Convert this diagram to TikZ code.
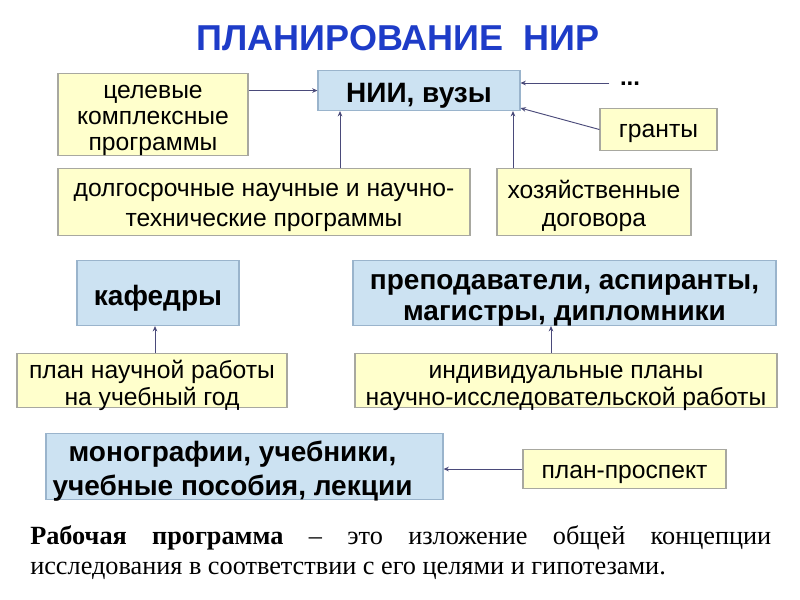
\documentclass[tikz,border=0pt]{standalone}
\usepackage{fontspec}
\setmainfont{Liberation Sans}
\newfontfamily\serifru{Liberation Serif}
\usetikzlibrary{arrows.meta,calc}
\definecolor{yfill}{HTML}{FFFFCC}
\definecolor{bfill}{HTML}{CCE2F2}
\definecolor{ydraw}{HTML}{A8A8A0}
\definecolor{bdraw}{HTML}{9AB4CC}
\definecolor{arrc}{HTML}{4A4A7A}
\definecolor{titc}{HTML}{1E3CC8}
% centred lines with a fixed baseline distance; box baseline = first line
\newcommand\mylines[2]{\vtop{\baselineskip=#1\relax\lineskiplimit=-100pt\relax
  \halign{\hfil##\hfil\cr#2\crcr}}}
\tikzset{
  boxbase/.style={line width=0.8pt, inner sep=0pt, anchor=north},
  ybox/.style={boxbase, draw=ydraw, fill=yfill, font=\fontsize{18.5}{22}\selectfont},
  bbox/.style={boxbase, draw=bdraw, fill=bfill, font=\fontsize{21}{24}\selectfont\bfseries},
  arr/.style={draw=arrc, line width=0.7pt, -{Stealth[length=4pt,width=3.5pt]}},
}
\begin{document}
\begin{tikzpicture}[x=0.75pt,y=-0.75pt]
\useasboundingbox[fill=white] (0,0) rectangle (800,600);
\node[text=titc, font=\fontsize{27}{30}\selectfont\bfseries] (title) at (398,38) {ПЛАНИРОВАНИЕ\ \ НИР};

\node[ybox, minimum width=142.5pt, text height=18.75pt, text depth=42.75pt] (cel) at (153,73)
  {\mylines{19.5pt}{целевые\cr комплексные\cr программы}};
\node[bbox, minimum width=151.5pt, text height=24pt, text depth=6pt] (nii) at (419,70) {НИИ, вузы};
\node[font=\fontsize{18}{20}\selectfont\bfseries] (dots) at (630,84) {...};
\node[ybox, minimum width=87.75pt, text height=22pt, text depth=9.5pt] (gr) at (658.5,108) {гранты};
\node[ybox, minimum width=309pt, text height=21pt, text depth=29.25pt] (dol) at (264,168)
  {\mylines{22.5pt}{долгосрочные научные и научно-\cr технические программы}};
\node[ybox, minimum width=145.5pt, text height=22.5pt, text depth=27.75pt] (hoz) at (594,168)
  {\mylines{21pt}{хозяйственные\cr договора}};

\node[bbox, minimum width=121.5pt, text height=34pt, text depth=14.75pt] (kaf) at (158,260) {кафедры};
\node[bbox, minimum width=317.25pt, text height=22pt, text depth=26.75pt] (prep) at (564.5,260)
  {\mylines{23pt}{преподаватели, аспиранты,\cr магистры, дипломники}};
\node[ybox, minimum width=202.5pt, text height=18.75pt, text depth=21.75pt] (pnr) at (152,353)
  {\mylines{20.25pt}{план научной работы\cr на учебный год}};
\node[ybox, minimum width=316.5pt, text height=18.75pt, text depth=21.75pt] (ind) at (566,353)
  {\mylines{20.25pt}{индивидуальные планы\cr научно-исследовательской работы}};

\node[bbox, minimum width=297.75pt, text height=21pt, text depth=28.5pt] (mono) at (244.5,433)
  {\mylines{25.5pt}{монографии, учебники,\cr учебные пособия, лекции}\hspace*{18pt}};
\node[ybox, minimum width=152.25pt, text height=22pt, text depth=7.25pt] (pp) at (624.5,449) {план-проспект};

\draw[arr] (cel.east |- nii.west) -- (nii.west);
\draw[arr] ($(dots.west)+(-6,-1)$) coordinate (d1) -- (nii.east |- d1);
\draw[arr] (gr.west) -- ($(nii.south east)+(0,-3)$);
\draw[arr] ($(dol.north)+(76,0)$) coordinate (a1) -- (a1 |- nii.south);
\draw[arr] ($(hoz.north)+(-81,0)$) coordinate (a2) -- (a2 |- nii.south);
\draw[arr] ($(pnr.north)+(3,0)$) coordinate (a3) -- (a3 |- kaf.south);
\draw[arr] ($(ind.north)+(-15,0)$) coordinate (a4) -- (a4 |- prep.south);
\draw[arr] (pp.west) -- (mono.east |- pp.west);

\node[anchor=north west, inner sep=0pt, text width=555.75pt, align=justify,
  font=\serifru\fontsize{19.7}{22.5}\selectfont] (txt) at (30,525)
  {\textbf{Рабочая программа} – это изложение общей концепции\linebreak исследования в соответствии с его целями и гипотезами.};
\end{tikzpicture}
\end{document}
